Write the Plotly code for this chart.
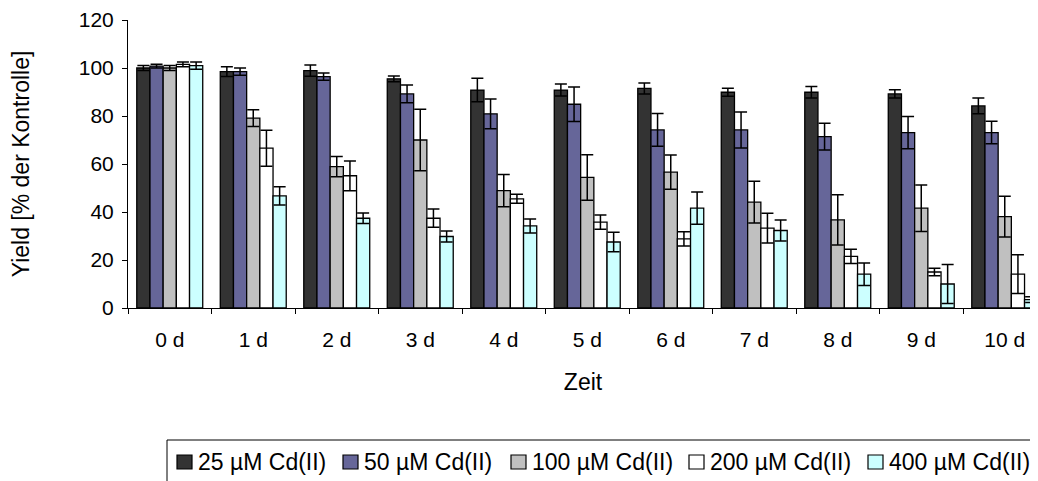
import plotly.graph_objects as go

categories = ["0 d", "1 d", "2 d", "3 d", "4 d", "5 d", "6 d", "7 d", "8 d", "9 d", "10 d"]
series_names = ["25 µM Cd(II)", "50 µM Cd(II)", "100 µM Cd(II)", "200 µM Cd(II)", "400 µM Cd(II)"]

y25 = [100.0, 98.5, 98.9, 95.5, 90.8, 90.8, 91.5, 89.9, 89.9, 89.2, 84.2]
e25 = [1.0, 2.0, 2.3, 1.2, 4.9, 2.5, 2.3, 1.7, 2.4, 1.7, 3.3]
y50 = [100.8, 98.5, 96.4, 89.2, 80.9, 84.9, 74.2, 74.2, 71.4, 73.1, 73.1]
e50 = [0.8, 1.5, 1.5, 3.7, 6.2, 7.2, 6.8, 7.5, 5.6, 6.7, 4.7]
y100 = [100.0, 79.1, 58.9, 70.0, 48.9, 54.4, 56.6, 44.1, 36.7, 41.6, 38.1]
e100 = [1.0, 3.5, 4.2, 12.8, 6.7, 9.5, 7.1, 8.7, 10.5, 9.7, 8.5]
y200 = [101.5, 66.6, 55.1, 37.4, 45.5, 35.8, 28.8, 33.3, 21.5, 15.0, 14.1]
e200 = [1.0, 7.5, 6.2, 3.8, 1.9, 3.0, 3.0, 6.2, 3.0, 1.6, 8.1]
y400 = [101.0, 46.7, 37.4, 29.8, 34.2, 27.5, 41.6, 32.3, 14.1, 10.0, 3.5]
e400 = [1.5, 3.8, 2.2, 2.3, 2.9, 4.1, 6.7, 4.4, 4.7, 8.1, 1.2]

colors = ["#333333", "#666699", "#C0C0C0", "#FFFFFF", "#CCFFFF"]
values = [y25, y50, y100, y200, y400]
errors = [e25, e50, e100, e200, e400]

FONT = "Arial, Liberation Sans, sans-serif"
OFF = 8  # page body margin
W, H = 1038 - OFF, 481 - OFF
ML, MR, MT, MB = 128 - OFF, 0, 20 - OFF, 173
PW, PH = W - ML - MR, H - MT - MB


def px_x(p):
    return (p - OFF - ML) / PW


def px_y(p):
    return (H - MB - (p - OFF)) / PH


fig = go.Figure()
for name, col, v, e in zip(series_names, colors, values, errors):
    fig.add_trace(go.Bar(
        x=categories, y=v, name=name,
        marker=dict(color=col, line=dict(color="black", width=1.3)),
        error_y=dict(type="data", array=e, visible=True, color="black", thickness=1.5, width=6),
    ))

# legend drawn as boxed row of swatches + labels
legend_sq_x = [177, 343, 511, 689, 868]
legend_cy = 462
shapes = [dict(type="rect", xref="paper", yref="paper",
               x0=px_x(167), x1=px_x(1070), y0=px_y(440), y1=px_y(530),
               line=dict(color="black", width=1), fillcolor="rgba(0,0,0,0)")]
annotations = []
for name, col, sx in zip(series_names, colors, legend_sq_x):
    shapes.append(dict(type="rect", xref="paper", yref="paper",
                       x0=px_x(sx), x1=px_x(sx + 15), y0=px_y(legend_cy - 7), y1=px_y(legend_cy + 7),
                       line=dict(color="black", width=1.2), fillcolor=col))
    annotations.append(dict(xref="paper", yref="paper", x=px_x(sx + 19), y=px_y(legend_cy),
                            xanchor="left", yanchor="middle", showarrow=False, text=name,
                            font=dict(family=FONT, size=23, color="black")))

fig.update_layout(
    width=W, height=H,
    margin=dict(l=ML, r=MR, t=MT, b=MB, pad=0),
    paper_bgcolor="white", plot_bgcolor="white",
    barmode="group", bargap=0.21, bargroupgap=0,
    font=dict(family=FONT, size=21, color="black"),
    showlegend=False,
    shapes=shapes,
    annotations=annotations,
)
fig.update_xaxes(
    type="category", range=[-0.5, -0.5 + PW / 83.5],
    showline=True, linecolor="black", linewidth=1,
    ticks="outside", tickson="boundaries", ticklen=5, tickcolor="black", tickwidth=1,
    showgrid=False, zeroline=False, ticklabelstandoff=13,
    tickfont=dict(family=FONT, size=21, color="black"),
    title=dict(text="Zeit", font=dict(family=FONT, size=23, color="black"), standoff=23),
)
fig.update_yaxes(
    range=[0, 120], dtick=20, tick0=0,
    showline=True, linecolor="black", linewidth=1,
    ticks="outside", ticklen=5, tickcolor="black", tickwidth=1,
    showgrid=False, zeroline=False, ticklabelstandoff=4,
    tickfont=dict(family=FONT, size=21, color="black"),
    title=dict(text="Yield [% der Kontrolle]", font=dict(family=FONT, size=23, color="black"), standoff=49),
)

fig.write_html("out.html")
